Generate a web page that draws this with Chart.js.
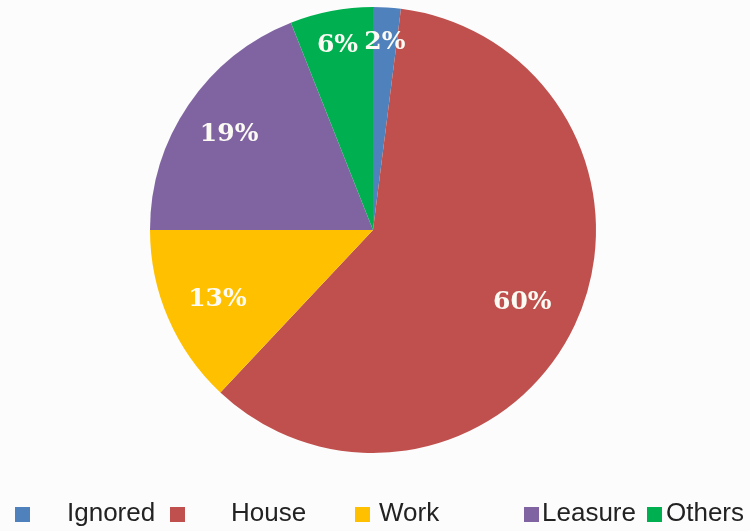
<!DOCTYPE html>
<html lang="en">

<head>
  <meta charset="UTF-8">
  <title>Pie</title>
  <script src="https://cdn.jsdelivr.net/npm/chart.js"></script>
  <style>
    html, body { margin: 0; padding: 0; background: #fcfcfc; }
    .wrap { position: relative; width: 750px; height: 531px; }
    #pieChart { position: absolute; left: 0; top: 0; }
    .legenda { position: absolute; top: 495px; left: 0; width: 750px; height: 36px;
      font-family: "Liberation Sans", Arial, sans-serif; font-size: 26px; color: #222; }
    .legenda span { position: absolute; top: 2px; line-height: 30px; white-space: nowrap; }
    .legenda i { position: absolute; top: 12px; width: 15px; height: 15px; }
  </style>
</head>

<body>
  <div class="wrap">
    <canvas id="pieChart" width="750" height="531"></canvas>
    <div class="legenda" id="legenda"></div>
  </div>

  <script>
    const categorias = ['Ignored', 'House', 'Work', 'Leasure', 'Others'];
    const valores = [2, 60, 13, 19, 6];
    const cores = ['#4f81bd', '#c0504d', '#ffc000', '#8064a2', '#00b050'];

    // distancia do rotulo ao centro (fracao do raio) e posicao da legenda
    const raioRotulo = [0.85, 0.74, 0.76, 0.78, 0.85];
    const posQuadrado = [15, 170, 355, 524, 647];
    const posTexto = [67, 231, 379, 542, 666];

    const rotulos = {
      id: 'rotulos',
      afterDatasetsDraw(chart) {
        const ctx = chart.ctx;
        const meta = chart.getDatasetMeta(0);
        const total = valores.reduce((a, b) => a + b, 0);
        ctx.save();
        ctx.font = 'bold 25px "DejaVu Serif", serif';
        ctx.fillStyle = '#fbfbf4';
        ctx.textAlign = 'center';
        ctx.textBaseline = 'middle';
        meta.data.forEach((arc, i) => {
          const ang = (arc.startAngle + arc.endAngle) / 2;
          const r = arc.outerRadius * raioRotulo[i];
          const x = arc.x + Math.cos(ang) * r;
          const y = arc.y + Math.sin(ang) * r;
          ctx.fillText(Math.round(valores[i] / total * 100) + '%', x, y + 2);
        });
        ctx.restore();
      }
    };

    new Chart(document.getElementById('pieChart'), {
      type: 'pie',
      data: {
        labels: categorias,
        datasets: [{
          data: valores,
          backgroundColor: cores,
          borderWidth: 0
        }]
      },
      options: {
        responsive: false,
        animation: false,
        layout: { padding: { top: 7, bottom: 78, left: 150, right: 154 } },
        plugins: {
          legend: { display: false },
          tooltip: { enabled: false }
        }
      },
      plugins: [rotulos]
    });

    const legenda = document.getElementById('legenda');
    categorias.forEach((nome, i) => {
      const q = document.createElement('i');
      q.style.left = posQuadrado[i] + 'px';
      q.style.background = cores[i];
      legenda.appendChild(q);
      const t = document.createElement('span');
      t.style.left = posTexto[i] + 'px';
      t.textContent = nome;
      legenda.appendChild(t);
    });
  </script>
</body>

</html>
